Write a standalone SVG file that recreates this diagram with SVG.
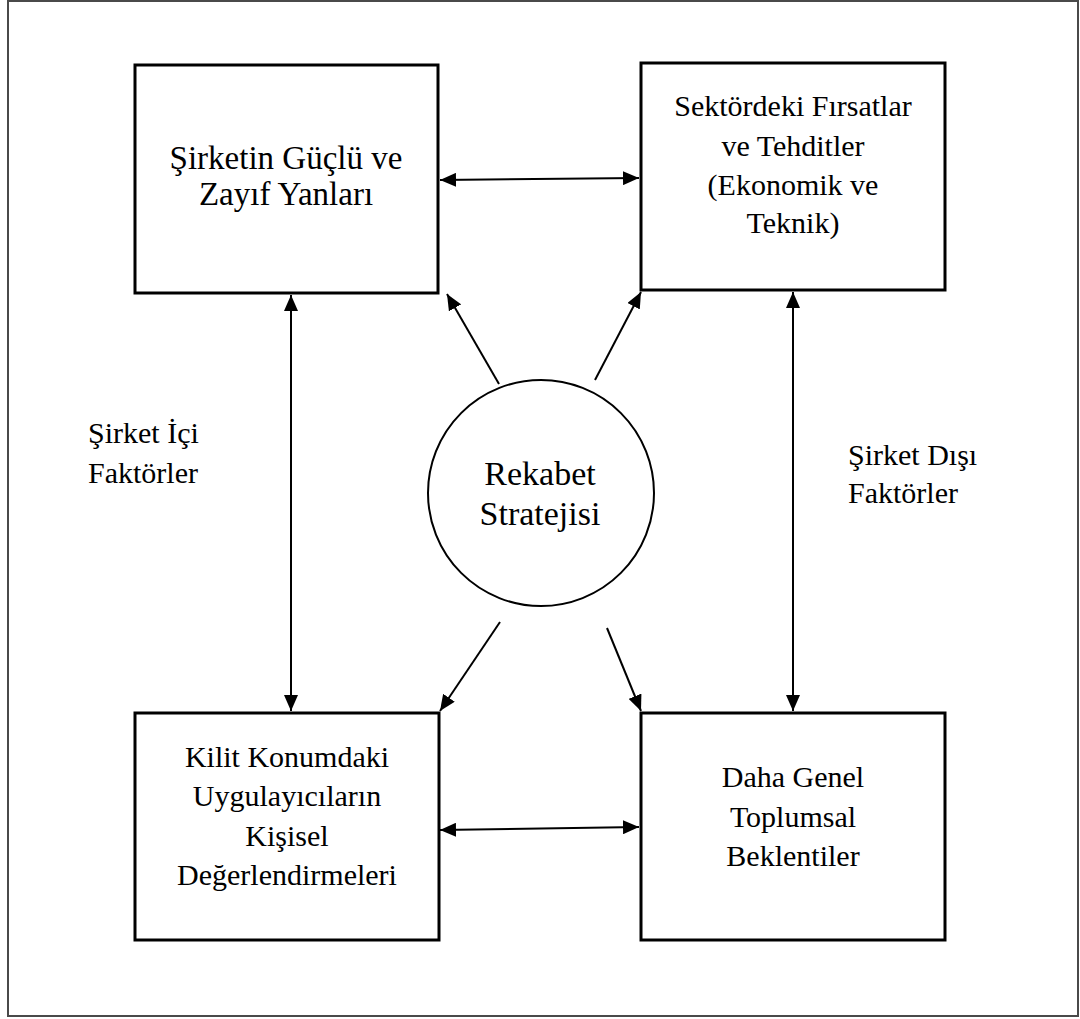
<svg xmlns="http://www.w3.org/2000/svg" width="1080" height="1019" viewBox="0 0 1080 1019">
  <style>
    .frame { fill: #ffffff; stroke: #4a4a4a; stroke-width: 2; }
    .box { fill: #ffffff; stroke: #000000; stroke-width: 3; }
    .circ { fill: #ffffff; stroke: #000000; stroke-width: 2; }
    .lbl { font-family: "Liberation Serif", "Times New Roman", serif; font-size: 30px; fill: #000000; }
    .big { font-size: 33px; }
    .ctr { font-size: 34px; }
    .mid { text-anchor: middle; }
    .conn { stroke: #000000; stroke-width: 2; fill: none; }
  </style>
  <defs>
    <marker id="arrow" viewBox="0 0 16 14" refX="16" refY="7" markerWidth="16" markerHeight="14" markerUnits="userSpaceOnUse" orient="auto-start-reverse">
      <path d="M0,0 L16,7 L0,14 z" fill="#000000"/>
    </marker>
  </defs>

  <rect class="frame" x="8" y="1" width="1070" height="1015"/>

  <!-- connectors -->
  <g id="connectors">
    <line class="conn" x1="440" y1="180" x2="639" y2="178" marker-start="url(#arrow)" marker-end="url(#arrow)"/>
    <line class="conn" x1="440" y1="830" x2="639" y2="827" marker-start="url(#arrow)" marker-end="url(#arrow)"/>
    <line class="conn" x1="291" y1="295" x2="291" y2="711" marker-start="url(#arrow)" marker-end="url(#arrow)"/>
    <line class="conn" x1="793" y1="292" x2="793" y2="711" marker-start="url(#arrow)" marker-end="url(#arrow)"/>
    <line class="conn" x1="499" y1="384" x2="447" y2="294" marker-end="url(#arrow)"/>
    <line class="conn" x1="595" y1="380" x2="641" y2="292" marker-end="url(#arrow)"/>
    <line class="conn" x1="500" y1="622" x2="440" y2="711" marker-end="url(#arrow)"/>
    <line class="conn" x1="607" y1="628" x2="641" y2="711" marker-end="url(#arrow)"/>
  </g>

  <!-- internal strengths / weaknesses -->
  <g id="node-strengths">
    <rect class="box" x="135" y="65" width="303" height="228"/>
    <text class="lbl big mid" x="286" y="169">Şirketin Güçlü ve</text>
    <text class="lbl big mid" x="286" y="205">Zayıf Yanları</text>
  </g>

  <!-- sector opportunities / threats -->
  <g id="node-sector">
    <rect class="box" x="641" y="63" width="304" height="227"/>
    <text class="lbl mid" x="793" y="116">Sektördeki Fırsatlar</text>
    <text class="lbl mid" x="793" y="156">ve Tehditler</text>
    <text class="lbl mid" x="793" y="195">(Ekonomik ve</text>
    <text class="lbl mid" x="793" y="233">Teknik)</text>
  </g>

  <!-- key implementers -->
  <g id="node-implementers">
    <rect class="box" x="135" y="713" width="304" height="227"/>
    <text class="lbl mid" x="287" y="767">Kilit Konumdaki</text>
    <text class="lbl mid" x="287" y="806">Uygulayıcıların</text>
    <text class="lbl mid" x="287" y="846">Kişisel</text>
    <text class="lbl mid" x="287" y="885">Değerlendirmeleri</text>
  </g>

  <!-- societal expectations -->
  <g id="node-society">
    <rect class="box" x="641" y="713" width="304" height="227"/>
    <text class="lbl mid" x="793" y="787">Daha Genel</text>
    <text class="lbl mid" x="793" y="827">Toplumsal</text>
    <text class="lbl mid" x="793" y="866">Beklentiler</text>
  </g>

  <!-- central strategy -->
  <g id="node-strategy">
    <circle class="circ" cx="541" cy="493" r="113"/>
    <text class="lbl ctr mid" x="540" y="485">Rekabet</text>
    <text class="lbl ctr mid" x="540" y="525">Stratejisi</text>
  </g>

  <!-- side labels -->
  <g id="label-internal">
    <text class="lbl" x="88" y="443">Şirket İçi</text>
    <text class="lbl" x="88" y="483">Faktörler</text>
  </g>
  <g id="label-external">
    <text class="lbl" x="848" y="465">Şirket Dışı</text>
    <text class="lbl" x="848" y="503">Faktörler</text>
  </g>
</svg>
